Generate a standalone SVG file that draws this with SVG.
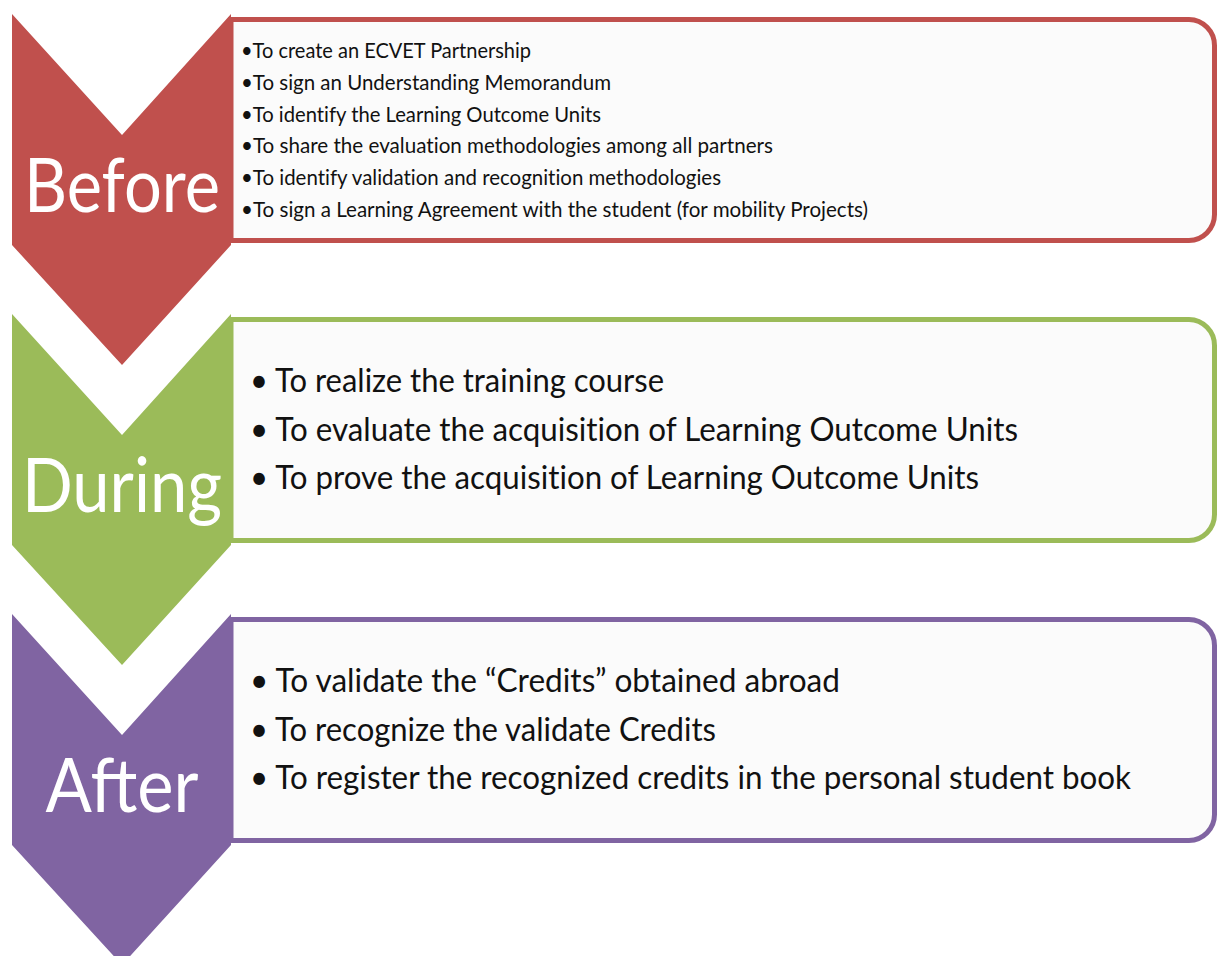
<svg xmlns="http://www.w3.org/2000/svg" width="1217" height="956" viewBox="0 0 1217 956">
  <style>
    .box { fill: #fbfbfb; stroke-width: 5; }
    .stage { font-family: Lato, "Open Sans", "Liberation Sans", sans-serif; fill: #ffffff; }
    .small { font-family: Lato, "Liberation Sans", sans-serif; font-size: 21px; fill: #111111; font-variant-ligatures: none; }
    .big { font-family: Lato, "Liberation Sans", sans-serif; font-size: 33px; fill: #111111; font-variant-ligatures: none; }
  </style>
  <defs>
    <!-- arrow-like stage marker -->
    <polygon id="chevron" points="12,14 122,135 231,14 231,245 122,365 12,245"/>
    <!-- text panel: square on the left, rounded on the right -->
    <path id="panel" d="M231,19.5 H1189 A26,26 0 0 1 1214.5,45.5 V214.5 A26,26 0 0 1 1189,240.5 H231 Z"/>
  </defs>
  <rect width="1217" height="956" fill="#ffffff"/>

  <!-- Stage 1: before -->
  <g id="before">
    <use href="#panel" class="box" stroke="#c0504d"/>
    <use href="#chevron" fill="#c0504d"/>
    <text class="stage" x="122" y="212" font-size="76" text-anchor="middle" textLength="196" lengthAdjust="spacingAndGlyphs">Before</text>
    <text class="small" x="241" y="58" textLength="290" lengthAdjust="spacingAndGlyphs">•To create an ECVET Partnership</text>
    <text class="small" x="241" y="90" textLength="370" lengthAdjust="spacingAndGlyphs">•To sign an Understanding Memorandum</text>
    <text class="small" x="241" y="122" textLength="360" lengthAdjust="spacingAndGlyphs">•To identify the Learning Outcome Units</text>
    <text class="small" x="241" y="153" textLength="532" lengthAdjust="spacingAndGlyphs">•To share the evaluation methodologies among all partners</text>
    <text class="small" x="241" y="185" textLength="480" lengthAdjust="spacingAndGlyphs">•To identify validation and recognition methodologies</text>
    <text class="small" x="241" y="217" textLength="627" lengthAdjust="spacingAndGlyphs">•To sign a Learning Agreement with the student (for mobility Projects)</text>
  </g>

  <!-- Stage 2: during -->
  <g id="during">
    <use href="#panel" y="300" class="box" stroke="#9bbb59"/>
    <use href="#chevron" y="300" fill="#9bbb59"/>
    <text class="stage" x="122" y="512" font-size="76" text-anchor="middle" textLength="200" lengthAdjust="spacingAndGlyphs">During</text>
    <text class="big" x="250" y="392" textLength="414" lengthAdjust="spacingAndGlyphs">• To realize the training course</text>
    <text class="big" x="250" y="441" textLength="768" lengthAdjust="spacingAndGlyphs">• To evaluate the acquisition of Learning Outcome Units</text>
    <text class="big" x="250" y="489" textLength="729" lengthAdjust="spacingAndGlyphs">• To prove the acquisition of Learning Outcome Units</text>
  </g>

  <!-- Stage 3: after -->
  <g id="after">
    <use href="#panel" y="600" class="box" stroke="#8064a2"/>
    <use href="#chevron" y="600" fill="#8064a2"/>
    <text class="stage" x="122" y="812" font-size="76" text-anchor="middle" textLength="153" lengthAdjust="spacingAndGlyphs">After</text>
    <text class="big" x="250" y="692" textLength="590" lengthAdjust="spacingAndGlyphs">• To validate the “Credits” obtained abroad</text>
    <text class="big" x="250" y="741" textLength="466" lengthAdjust="spacingAndGlyphs">• To recognize the validate Credits</text>
    <text class="big" x="250" y="789" textLength="881" lengthAdjust="spacingAndGlyphs">• To register the recognized credits in the personal student book</text>
  </g>

  <g id="connectors"/>
</svg>
